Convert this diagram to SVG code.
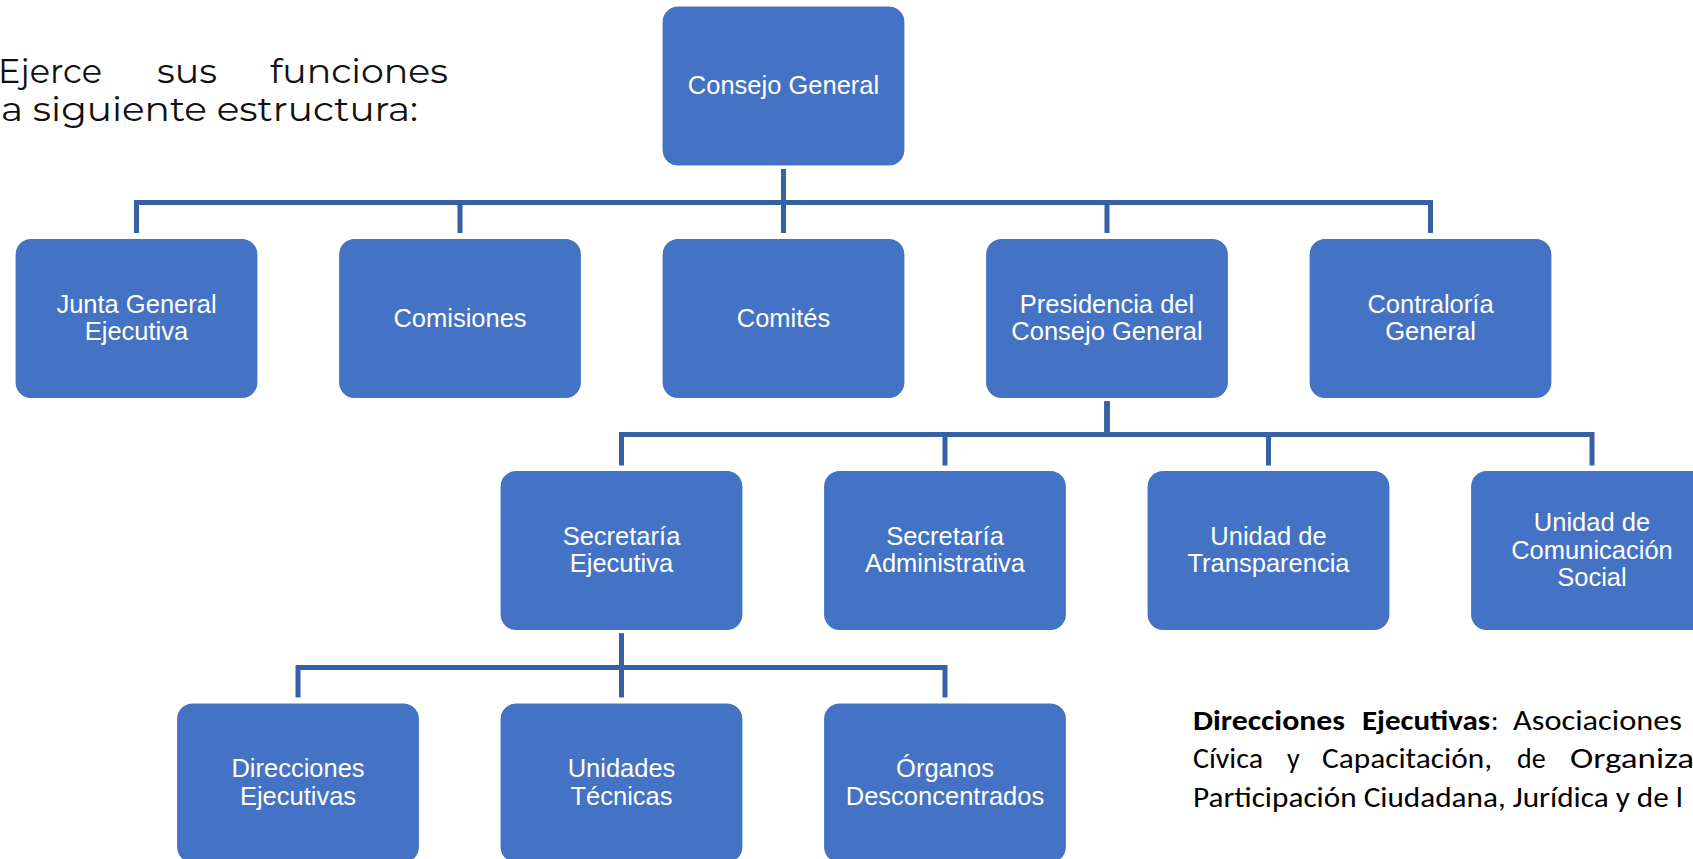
<svg xmlns="http://www.w3.org/2000/svg" width="1693" height="859" viewBox="0 0 1693 859">
<style>
.box{fill:#4472C4;stroke:#ffffff;stroke-width:1.2}
.lbl{fill:#ffffff;font-family:"Liberation Sans",Arial,sans-serif;font-size:25.5px;text-anchor:middle}
.conn{fill:none;stroke:#3761A6;stroke-width:5;stroke-linejoin:miter}
.intro{fill:#111111;font-family:Montserrat,Inter,"Open Sans",sans-serif;font-weight:400;font-size:33px}
.note{fill:#000000;font-family:Carlito,Calibri,Lato,"Noto Sans",sans-serif;font-size:28px}
.b{font-weight:bold}
</style>
<rect width="1693" height="859" fill="#ffffff"/>

<g id="intro-text">
<text class="intro" x="-2" y="83" textLength="104" lengthAdjust="spacingAndGlyphs">Ejerce</text>
<text class="intro" x="157" y="83" textLength="60" lengthAdjust="spacingAndGlyphs">sus</text>
<text class="intro" x="270" y="83" textLength="178" lengthAdjust="spacingAndGlyphs">funciones</text>
<text class="intro" x="1" y="121" textLength="417" lengthAdjust="spacingAndGlyphs">a siguiente estructura:</text>
</g>

<g id="connectors">
<path class="conn" d="M783.5 169 V202.5 H136.5 V233"/>
<path class="conn" d="M783.5 169 V202.5 H460 V233"/>
<path class="conn" d="M783.5 169 V233"/>
<path class="conn" d="M783.5 169 V202.5 H1107 V233"/>
<path class="conn" d="M783.5 169 V202.5 H1430.5 V233"/>
<path class="conn" d="M1107 401.5 V434.5 H621.5 V465.5"/>
<path class="conn" d="M1107 401.5 V434.5 H945 V465.5"/>
<path class="conn" d="M1107 401.5 V434.5 H1268.5 V465.5"/>
<path class="conn" d="M1107 401.5 V434.5 H1592 V465.5"/>
<path class="conn" d="M621.5 633.5 V667.5 H298 V697.5"/>
<path class="conn" d="M621.5 633.5 V697.5"/>
<path class="conn" d="M621.5 633.5 V667.5 H945 V697.5"/>
</g>

<g id="consejo-general">
<rect class="box" x="662" y="6" width="243" height="160" rx="16"/>
<text class="lbl" x="783.5" y="94">Consejo General</text>
</g>

<g id="junta-general-ejecutiva">
<rect class="box" x="15" y="238.5" width="243" height="160" rx="16"/>
<text class="lbl" x="136.5" y="312.9">Junta General</text>
<text class="lbl" x="136.5" y="340.2">Ejecutiva</text>
</g>
<g id="comisiones">
<rect class="box" x="338.5" y="238.5" width="243" height="160" rx="16"/>
<text class="lbl" x="460" y="326.5">Comisiones</text>
</g>
<g id="comites">
<rect class="box" x="662" y="238.5" width="243" height="160" rx="16"/>
<text class="lbl" x="783.5" y="326.5">Comités</text>
</g>
<g id="presidencia">
<rect class="box" x="985.5" y="238.5" width="243" height="160" rx="16"/>
<text class="lbl" x="1107" y="312.9">Presidencia del</text>
<text class="lbl" x="1107" y="340.2">Consejo General</text>
</g>
<g id="contraloria">
<rect class="box" x="1309" y="238.5" width="243" height="160" rx="16"/>
<text class="lbl" x="1430.5" y="312.9">Contraloría</text>
<text class="lbl" x="1430.5" y="340.2">General</text>
</g>

<g id="secretaria-ejecutiva">
<rect class="box" x="500" y="470.5" width="243" height="160" rx="16"/>
<text class="lbl" x="621.5" y="544.9">Secretaría</text>
<text class="lbl" x="621.5" y="572.2">Ejecutiva</text>
</g>
<g id="secretaria-administrativa">
<rect class="box" x="823.5" y="470.5" width="243" height="160" rx="16"/>
<text class="lbl" x="945" y="544.9">Secretaría</text>
<text class="lbl" x="945" y="572.2">Administrativa</text>
</g>
<g id="unidad-transparencia">
<rect class="box" x="1147" y="470.5" width="243" height="160" rx="16"/>
<text class="lbl" x="1268.5" y="544.9">Unidad de</text>
<text class="lbl" x="1268.5" y="572.2">Transparencia</text>
</g>
<g id="unidad-comunicacion-social">
<rect class="box" x="1470.5" y="470.5" width="243" height="160" rx="16"/>
<text class="lbl" x="1592" y="531.2">Unidad de</text>
<text class="lbl" x="1592" y="558.5">Comunicación</text>
<text class="lbl" x="1592" y="585.8">Social</text>
</g>

<g id="direcciones-ejecutivas">
<rect class="box" x="176.5" y="703" width="243" height="160" rx="16"/>
<text class="lbl" x="298" y="777.4">Direcciones</text>
<text class="lbl" x="298" y="804.7">Ejecutivas</text>
</g>
<g id="unidades-tecnicas">
<rect class="box" x="500" y="703" width="243" height="160" rx="16"/>
<text class="lbl" x="621.5" y="777.4">Unidades</text>
<text class="lbl" x="621.5" y="804.7">Técnicas</text>
</g>
<g id="organos-desconcentrados">
<rect class="box" x="823.5" y="703" width="243" height="160" rx="16"/>
<text class="lbl" x="945" y="777.4">Órganos</text>
<text class="lbl" x="945" y="804.7">Desconcentrados</text>
</g>

<g id="note-text">
<text class="note b" x="1193" y="730" textLength="152" lengthAdjust="spacingAndGlyphs">Direcciones</text>
<text class="note b" x="1362" y="730" textLength="128" lengthAdjust="spacingAndGlyphs">Ejecutivas</text>
<text class="note" x="1491" y="730">:</text>
<text class="note" x="1513" y="730" textLength="169" lengthAdjust="spacingAndGlyphs">Asociaciones</text>
<text class="note" x="1193" y="768" textLength="70" lengthAdjust="spacingAndGlyphs">Cívica</text>
<text class="note" x="1287" y="768">y</text>
<text class="note" x="1322" y="768" textLength="170" lengthAdjust="spacingAndGlyphs">Capacitación,</text>
<text class="note" x="1517" y="768">de</text>
<text class="note" x="1570" y="768" textLength="124" lengthAdjust="spacingAndGlyphs">Organiza</text>
<text class="note" x="1193" y="806.5" textLength="490" lengthAdjust="spacingAndGlyphs">Participación Ciudadana, Jurídica y de l</text>
</g>
</svg>
